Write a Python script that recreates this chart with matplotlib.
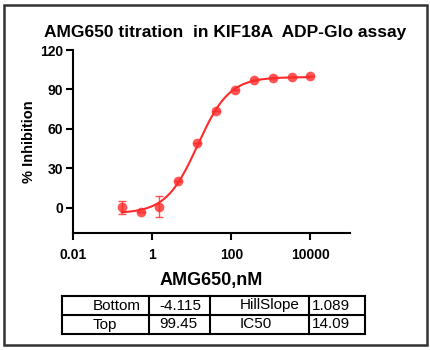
import numpy as np
import matplotlib
matplotlib.use("Agg")
import matplotlib.pyplot as plt
from matplotlib.patches import Rectangle

plt.rcParams['font.family'] = ['Liberation Sans', 'DejaVu Sans']

# data
conc_nM = [10000, 3333, 1111, 370.4, 123.5, 41.15, 13.72, 4.572, 1.524, 0.508, 0.169]
inhibition = [100.0, 99.5, 98.7, 97.0, 89.4, 73.5, 49.0, 20.5, 1.0, -3.3, 0.5]
err = [0, 0, 0, 0, 0, 0, 0, 0, 7.8, 0, 5.0]

# fitted parameters
fit_names = ["Bottom", "HillSlope", "Top", "IC50"]
fit_values = [-4.115, 1.089, 99.45, 14.09]
bottom, hill, top, ic50 = fit_values[0], fit_values[1], fit_values[2], fit_values[3]

xticks = [0.01, 1, 100, 10000]
xtick_labels = ["0.01", "1", "100", "10000"]
yticks = [0, 30, 60, 90, 120]

red = '#ff2a2a'

fig = plt.figure(figsize=(4.31, 3.5), dpi=100)
ax = fig.add_axes([73/431, 1 - 233/350, (350 - 73)/431, (233 - 50)/350])

xs = np.logspace(np.log10(min(conc_nM)), np.log10(max(conc_nM)), 300)
ys = bottom + (top - bottom) / (1 + (ic50 / xs) ** hill)
ax.plot(xs, ys, color=red, lw=1.5, zorder=2)
ax.errorbar(conc_nM, inhibition, yerr=err, fmt='o', color=red, ms=7, alpha=0.8,
            elinewidth=1, capsize=3, capthick=1, mec='none', zorder=3)

ax.set_xscale('log')
ax.set_xlim(0.01, 1e5)
ax.set_ylim(-19, 120)
ax.set_xticks(xticks)
ax.set_xticklabels(xtick_labels)
ax.xaxis.set_minor_locator(matplotlib.ticker.NullLocator())
ax.set_yticks(yticks)
for s in ['top', 'right']:
    ax.spines[s].set_visible(False)
for s in ['left', 'bottom']:
    ax.spines[s].set_linewidth(1.5)
ax.tick_params(width=1.5, length=5, labelsize=10, pad=2)
ax.tick_params(axis='x', pad=6)
for lab in ax.get_xticklabels() + ax.get_yticklabels():
    lab.set_fontweight('bold')

ax.set_ylabel('% Inhibition', fontsize=10.5, fontweight='bold')
ax.yaxis.set_label_coords(-0.135, 0.5)
ax.set_xlabel('AMG650,nM', fontsize=13, fontweight='bold', labelpad=7)
fig.text(225/431, 1 - 32/350, 'AMG650 titration  in KIF18A  ADP-Glo assay',
         ha='center', va='center', fontsize=12.5, fontweight='bold')

# parameter table
W, H = 431, 350
col_x = [62, 149, 210, 309, 365]
row_y = [296, 315, 334]
for x in col_x:
    fig.add_artist(plt.Line2D([x/W, x/W], [1 - row_y[0]/H, 1 - row_y[-1]/H],
                              color='black', lw=1.5, transform=fig.transFigure))
for y in row_y:
    fig.add_artist(plt.Line2D([col_x[0]/W, col_x[-1]/W], [1 - y/H, 1 - y/H],
                              color='black', lw=1.5, transform=fig.transFigure))
text_x = [93, 159, 240, 312]
cells = [[fit_names[0], f"{fit_values[0]:.3f}", fit_names[1], f"{fit_values[1]:.3f}"],
         [fit_names[2], f"{fit_values[2]:.2f}", fit_names[3], f"{fit_values[3]:.2f}"]]
for r, row in enumerate(cells):
    yc = (row_y[r] + row_y[r + 1]) / 2
    for c, txt in enumerate(row):
        fig.text(text_x[c]/W, 1 - yc/H, txt, ha='left', va='center', fontsize=11)

fig.add_artist(Rectangle((4/W, 5/H), 423/W, 340/H, transform=fig.transFigure,
                         fill=False, ec='#333333', lw=1.8))

fig.savefig('out.png', dpi=100)
